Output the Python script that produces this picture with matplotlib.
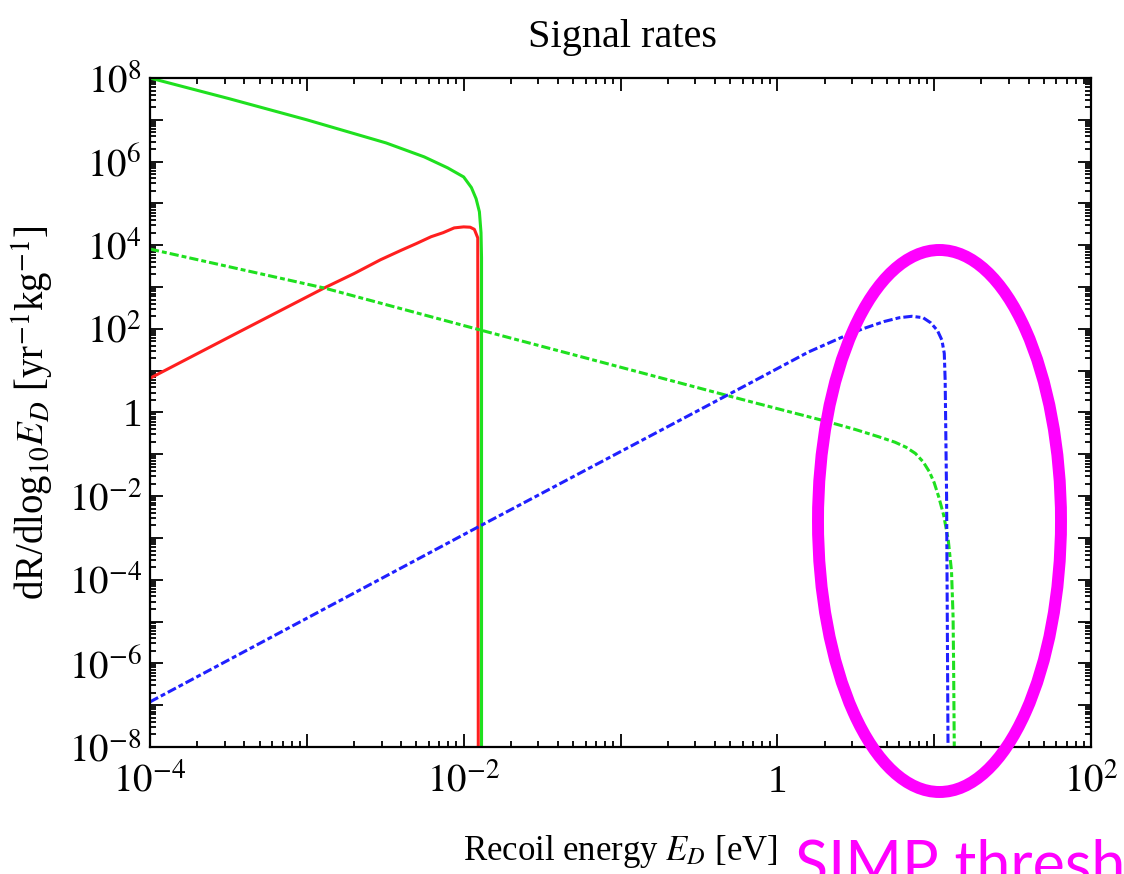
import numpy as np
import matplotlib.pyplot as plt
from matplotlib.patches import Ellipse
from matplotlib.ticker import LogLocator, FuncFormatter, NullFormatter

plt.rcParams['font.family'] = ['Liberation Serif', 'DejaVu Serif']
plt.rcParams['mathtext.fontset'] = 'stix'

# Рекойл-энергия [eV] и скорости [1/(yr kg)]
e_green = [1e-4, 3.2e-4, 1e-3, 3.2e-3, 5.6e-3, 7.9e-3, 1.0e-2, 1.12e-2, 1.2e-2, 1.26e-2, 1.29e-2, 1.30e-2, 1.30e-2]
r_green = [1e8, 3.2e7, 1.0e7, 2.8e6, 1.3e6, 7.1e5, 4.3e5, 2.4e5, 1.3e5, 6.3e4, 2e4, 5e3, 1e-9]

e_red = [1e-4, 3.55e-4, 1.29e-3, 2.0e-3, 2.95e-3, 4.0e-3, 5.0e-3, 6.2e-3, 7.4e-3, 8.7e-3, 1.0e-2, 1.1e-2, 1.17e-2, 1.23e-2, 1.24e-2]
r_red = [6.6, 78, 9.5e2, 2.1e3, 4.5e3, 7.6e3, 1.1e4, 1.6e4, 2.0e4, 2.6e4, 2.75e4, 2.7e4, 2.4e4, 1.5e4, 1e-9]

e_green_d = [1e-4, 1.29e-3, 1.29e-2, 0.68, 2.0, 3.16, 4.47, 5.62, 6.61, 7.59, 8.51, 9.33, 10.0,
             10.7, 11.5, 12.3, 12.9, 13.2, 13.3, 13.5]
r_green_d = [8.1e3, 9.5e2, 93, 1.8, 0.63, 0.39, 0.26, 0.195, 0.148, 0.105, 0.066, 0.038, 0.021,
             9.5e-3, 3.5e-3, 8.9e-4, 1.6e-4, 1.3e-5, 1e-6, 1e-9]

e_blue = [1e-4, 1e-2, 0.68, 1.58, 2.7, 3.5, 4.8, 6.0, 7.2, 8.5, 9.5, 10.5, 11.2, 11.6, 11.75, 12.0, 12.3]
r_blue = [1.2e-7, 1.2e-3, 5.2, 28, 68, 100, 150, 185, 200, 185, 140, 91, 54, 26, 6, 1e-2, 1e-9]

W, H = 1124, 874
fig = plt.figure(figsize=(W / 100, H / 100), dpi=100)
ax = fig.add_axes([150 / W, 1 - 747 / H, 941 / W, 669 / H])

dash = (0, (3.0, 1.0, 1.6, 1.0))
ax.plot(e_red, r_red, color='#ff1f1f', lw=2.2)
ax.plot(e_green, r_green, color='#1fe01f', lw=2.2)
ax.plot(e_green_d, r_green_d, color='#1fe01f', lw=2.2, ls=dash)
ax.plot(e_blue, r_blue, color='#2020ff', lw=2.2, ls=dash)

ax.set_xscale('log')
ax.set_yscale('log')
ax.set_xlim(1e-4, 1e2)
ax.set_ylim(1e-8, 1e8)


def fmt(v, pos):
    n = int(round(np.log10(v)))
    if n % 2:
        return ''
    if n == 0:
        return '1'
    return r'$10^{%d}$' % n


for axis in (ax.xaxis, ax.yaxis):
    axis.set_major_locator(LogLocator(base=10, numticks=40))
    axis.set_minor_locator(LogLocator(base=10, subs=np.arange(2, 10), numticks=40))
    axis.set_major_formatter(FuncFormatter(fmt))
    axis.set_minor_formatter(NullFormatter())

ax.tick_params(which='both', direction='in', top=True, right=True, width=1.3)
ax.tick_params(which='major', length=9.5, labelsize=28)
ax.tick_params(which='minor', length=4.5)
ax.tick_params(axis='x', pad=12)
ax.tick_params(axis='y', pad=6)
for s in ax.spines.values():
    s.set_linewidth(1.6)

fig.text(622 / W, 1 - 47 / H, 'Signal rates', fontsize=29, ha='center', va='baseline')
ax.set_xlabel(r'Recoil energy $E_D$ [eV]', fontsize=25)
ax.xaxis.set_label_coords(0.5, (747 - 833) / 669)
ax.set_ylabel(r'dR/dlog$_{10}E_D$ [yr$^{-1}$kg$^{-1}$]', fontsize=28)
ax.yaxis.set_label_coords((56 - 150) / 941, 0.5)

# выделение порога SIMP
ell = Ellipse((939.5 / W, 1 - 521 / H), 243 / W, 542 / H, transform=fig.transFigure,
              fill=False, ec='#ff00ff', lw=8.6, clip_on=False)
fig.add_artist(ell)
fig.text(795 / W, 1 - 884 / H, 'SIMP threshold', color='#ff00ff', fontsize=44,
         family='Lato', va='baseline', ha='left')

fig.savefig('out.png', dpi=100)
